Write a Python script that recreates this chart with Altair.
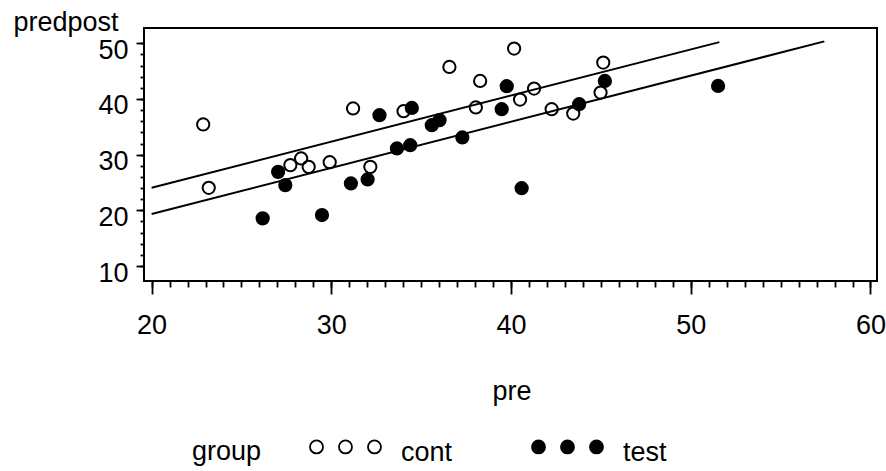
import altair as alt
import pandas as pd

# Control group (open circles)
cont_pre = [22.87, 23.18, 27.72, 28.32, 28.74, 29.91, 32.17, 31.21, 34.02, 36.57,
            38.28, 38.04, 40.17, 40.50, 41.28, 42.26, 43.46, 45.13, 44.98]
cont_post = [35.42, 24.05, 28.12, 29.32, 27.81, 28.65, 27.81, 38.29, 37.80, 45.75,
             43.24, 38.47, 49.05, 39.90, 41.87, 38.16, 37.39, 46.54, 41.16]

# Test group (filled circles)
test_pre = [26.18, 27.04, 27.44, 29.48, 31.09, 32.02, 32.68, 33.65, 34.39, 34.48,
            35.59, 36.02, 37.29, 39.48, 39.76, 40.59, 43.79, 45.22, 51.52]
test_post = [18.56, 26.91, 24.53, 19.15, 24.83, 25.55, 37.09, 31.11, 31.70, 38.39,
             35.29, 36.19, 33.09, 38.16, 42.29, 23.97, 39.06, 43.24, 42.34]

# Fitted (parallel) regression lines, one per group: end points
fit_group = ["cont", "cont", "test", "test"]
fit_pre = [20.0, 51.59, 20.0, 57.43]
fit_post = [24.06, 50.21, 19.34, 50.34]

# Axis ticks
x_major = [20, 30, 40, 50, 60]
x_minor = list(range(20, 61))
y_major = [10, 20, 30, 40, 50]
y_minor = list(range(10, 51, 2))

FONT = "Liberation Sans"
FS = 27

points = pd.DataFrame({
    "pre": cont_pre + test_pre,
    "predpost": cont_post + test_post,
    "group": ["cont"] * len(cont_pre) + ["test"] * len(test_pre),
})
fits = pd.DataFrame({"pre": fit_pre, "predpost": fit_post, "group": fit_group})

# legend symbol: three circles in a row
centers = [0.0, 4.46, 8.92]
cy = -0.9
three_circles = " ".join(
    f"M {c - 1:.2f},{cy} A 1,1 0 1,0 {c + 1:.2f},{cy} A 1,1 0 1,0 {c - 1:.2f},{cy} Z"
    for c in centers
)

x_scale = alt.Scale(domain=[19.577, 60.362], nice=False, zero=False)
y_scale = alt.Scale(domain=[7.307, 52.747], nice=False, zero=False)

text_style = dict(labelFont=FONT, labelFontSize=FS, labelColor="black")
title_style = dict(titleFont=FONT, titleFontSize=FS, titleFontWeight="normal", titleColor="black")

# labelled axes with long ticks
x_axis_major = alt.Axis(
    orient="bottom", values=x_major, title="pre",
    titleAlign="left", titleBaseline="alphabetic", titleX=348, titleY=118,
    domain=False, grid=False, tickColor="black", tickWidth=1.8, tickSize=13,
    labelPadding=18, labelOverlap=False, labelFlush=False, format="d",
    **text_style, **title_style,
)
y_axis_major = alt.Axis(
    orient="left", values=y_major, title="predpost",
    titleAngle=0, titleAlign="left", titleBaseline="alphabetic", titleX=-131, titleY=2,
    domain=False, grid=False, tickColor="black", tickWidth=1.8, tickSize=8,
    labelPadding=8, labelOffset=7, labelOverlap=False, labelFlush=False, format="d",
    **text_style, **title_style,
)
# unlabelled axes with short minor ticks
x_axis_minor = alt.Axis(
    orient="bottom", values=x_minor, title=None, labels=False,
    domain=False, grid=False, tickColor="black", tickWidth=1.8, tickSize=6,
)
y_axis_minor = alt.Axis(
    orient="left", values=y_minor, title=None, labels=False,
    domain=False, grid=False, tickColor="black", tickWidth=1.8, tickSize=4,
)

lines = alt.Chart(fits).mark_line(color="black", strokeWidth=2).encode(
    x=alt.X("pre:Q", scale=x_scale, axis=x_axis_major),
    y=alt.Y("predpost:Q", scale=y_scale, axis=y_axis_major),
    detail="group:N",
)

dots = alt.Chart(points).mark_point(
    shape="circle", size=150, filled=True, stroke="black", strokeWidth=2, opacity=1
).encode(
    x=alt.X("pre:Q", scale=x_scale, axis=x_axis_minor),
    y=alt.Y("predpost:Q", scale=y_scale, axis=y_axis_minor),
    fill=alt.Fill(
        "group:N",
        scale=alt.Scale(domain=["cont", "test"], range=["transparent", "black"]),
        legend=alt.Legend(
            title="group", orient="none", direction="horizontal",
            legendX=48, legendY=411,
            titleOrient="left", titlePadding=41,
            labelFont=FONT, labelFontSize=FS, labelColor="black",
            titleFont=FONT, titleFontSize=FS, titleFontWeight="normal", titleColor="black",
            symbolType=three_circles, symbolSize=169,
            symbolStrokeColor="black", symbolStrokeWidth=1.8,
            labelOffset=71, columnPadding=72, padding=0,
        ),
    ),
)

chart = alt.layer(lines, dots).resolve_axis(
    x="independent", y="independent"
).properties(
    width=733,
    height=253,
    background="white",
    autosize=alt.AutoSizeParams(type="none"),
    padding={"left": 144, "top": 28, "right": 9, "bottom": 190},
).configure_view(stroke="black", strokeWidth=2)

chart.save("out.html", embed_options={"renderer": "svg", "actions": False})
